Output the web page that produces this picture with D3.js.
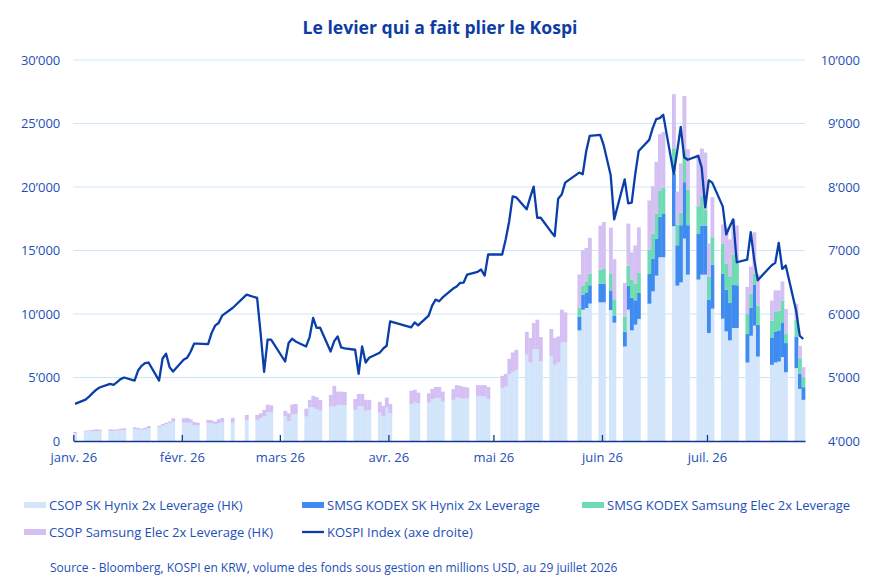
<!DOCTYPE html>
<html>
<head>
<meta charset="utf-8">
<script src="https://cdn.jsdelivr.net/npm/d3@7"></script>
<style>
  body { margin: 0; background: #fff; }
  svg { font-family: "Open Sans", sans-serif; }
</style>
</head>
<body>
<div id="chart"></div>
<script>
// Trading days shown on the chart (2026)
const dates = [
  "01-02","01-05","01-06","01-07","01-08","01-09","01-12","01-13","01-14","01-15","01-16",
  "01-19","01-20","01-21","01-22","01-23","01-26","01-27","01-28","01-29","01-30",
  "02-02","02-03","02-04","02-05","02-06","02-09","02-10","02-11","02-12","02-13",
  "02-16","02-20","02-23","02-24","02-25","02-26","02-27",
  "03-03","03-04","03-05","03-06","03-09","03-10","03-11","03-12","03-13",
  "03-16","03-17","03-18","03-19","03-20","03-23","03-24","03-25","03-26","03-27","03-30","03-31",
  "04-01","04-02","04-08","04-09","04-10","04-13","04-14","04-15","04-16","04-17",
  "04-20","04-21","04-22","04-23","04-24","04-27","04-28","04-29","04-30",
  "05-04","05-05","05-06","05-07","05-08","05-11","05-12","05-13","05-14","05-15",
  "05-18","05-19","05-20","05-21","05-22","05-26","05-27","05-28","05-29",
  "06-01","06-02","06-04","06-05","06-08","06-09","06-10","06-11","06-12",
  "06-15","06-16","06-17","06-18","06-19","06-22","06-23","06-24","06-25","06-26","06-29","06-30",
  "07-01","07-02","07-03","07-06","07-07","07-08","07-09","07-10",
  "07-13","07-14","07-15","07-16","07-20","07-21","07-22","07-23","07-24","07-27","07-28","07-29"
];

// CSOP SK Hynix 2x Leverage (HK), millions USD
const csopHynix = [
  630,740,750,760,780,770,800,790,810,830,850,
  950,910,880,930,1000,1080,1210,1320,1440,1520,
  1440,1440,1440,1240,1240,1390,1390,1300,1420,1500,
  1440,1660,1660,1790,1970,2290,2230,
  1970,1550,2080,2130,1920,2660,2660,2500,2390,
  2710,2710,2840,2840,2840,2450,2760,2760,2390,2450,2230,1970,
  2630,2190,2920,3020,2970,3020,3290,3390,3390,3100,
  3240,3450,3370,3340,3340,3500,3500,3500,3310,
  4180,4290,5260,5470,5600,6790,6180,7240,7240,6260,
  6710,6000,6180,7760,7760,8710,10340,10470,10820,
  10920,10920,10310,9320,7440,10340,8710,9160,9610,
  10810,11780,13020,14470,14470,16910,12230,12490,15940,13100,12710,13100,
  13100,8500,10420,9630,8630,7920,8900,8900,
  6180,8290,9080,6650,6000,6180,6260,6610,5420,5740,4100,3240
];

// SMSG KODEX SK Hynix 2x Leverage
const kodexHynix = [
  0,0,0,0,0,0,0,0,0,0,0, 0,0,0,0,0,0,0,0,0,0,
  0,0,0,0,0,0,0,0,0,0, 0,0,0,0,0,0,0,
  0,0,0,0,0,0,0,0,0, 0,0,0,0,0,0,0,0,0,0,0,0,
  0,0,0,0,0,0,0,0,0,0, 0,0,0,0,0,0,0,0,0,
  0,0,0,0,0,0,0,0,0,0, 0,0,0,0,0,1060,1180,1230,1440,
  1470,1470,1550,520,1160,1890,2560,1920,2050,
  2340,2580,2920,3190,3450,4140,3180,4500,4440,3890,3630,3870,
  3870,2630,3470,3550,3290,2950,3420,3360,
  2240,2210,3240,2500,2110,2450,2450,2730,2290,2490,1210,1000
];

// SMSG KODEX Samsung Elec 2x Leverage
const kodexSamsung = [
  0,0,0,0,0,0,0,0,0,0,0, 0,0,0,0,0,0,0,0,0,0,
  0,0,0,0,0,0,0,0,0,0, 0,0,0,0,0,0,0,
  0,0,0,0,0,0,0,0,0, 0,0,0,0,0,0,0,0,0,0,0,0,
  0,0,0,0,0,0,0,0,0,0, 0,0,0,0,0,0,0,0,0,
  0,0,0,0,0,0,0,0,0,0, 0,0,0,0,0,710,730,820,920,
  1100,1150,1340,1320,1210,1580,1440,1320,1580,
  1920,1970,1970,2080,2030,2000,1630,980,2450,2820,2150,2370,
  1260,1790,2150,2370,2050,2100,2370,1890,
  1580,1100,870,1500,1370,1530,1550,1710,730,1320,1210,790
];

// CSOP Samsung Elec 2x Leverage (HK)
const csopSamsung = [
  80,70,90,110,140,120,120,100,110,140,150,
  130,120,90,120,180,100,130,120,110,270,
  350,380,270,260,200,270,240,220,290,320,
  380,390,390,390,480,570,570,
  400,630,790,790,630,580,890,950,850,
  920,1630,1050,1050,1030,860,950,950,850,790,850,790,
  790,730,1030,1010,840,740,810,870,870,790,
  840,950,970,920,870,900,900,900,950,
  950,1000,1210,1500,1580,1810,1930,2050,2310,1920,
  2110,2110,2050,2580,2370,2630,2760,2680,2820,
  3470,3700,3600,3160,2640,3310,2150,3000,3580,
  3870,3730,4080,4420,4390,4260,2600,3890,4340,3160,4080,3690,
  4480,2630,3160,1500,2840,2900,2760,2820,
  2130,2130,3240,2450,1580,1700,1600,1520,1950,1260,970,790
];

// KOSPI Index (right axis)
const kospi = [
  4584,4652,4700,4753,4805,4842,4900,4884,4926,4974,5000,
  4952,5110,5184,5227,5236,4952,5300,5374,5163,5094,
  5279,5310,5405,5532,5532,5527,5700,5816,5858,5974,
  6095,6305,6253,5700,5090,5595,5595,
  5252,5543,5610,5568,5489,5637,5937,5780,5784,
  5410,5568,5647,5473,5460,5437,5058,5489,5236,5311,5390,5453,
  5500,5884,5789,5868,5821,5974,6132,6226,6200,6260,
  6400,6432,6490,6495,6621,6664,6700,6605,6937,
  6937,7174,7458,7853,7837,7648,7837,8006,7516,7516,
  7293,7226,7816,7880,8069,8227,8200,8563,8805,
  8821,8658,8184,7490,8121,7742,7753,8200,8568,
  8742,8927,9069,9085,9137,8211,8563,8947,8468,8429,8489,8306,
  7679,8105,8069,7695,7253,7379,7490,6815,
  6858,7289,6853,6531,6769,6805,7121,6711,6763,6042,5658,5606
];

const leftTicks = [0, 5000, 10000, 15000, 20000, 25000, 30000];
const rightTicks = [4000, 5000, 6000, 7000, 8000, 9000, 10000];
const monthLabels = ["janv. 26", "févr. 26", "mars 26", "avr. 26", "mai 26", "juin 26", "juil. 26"];

const seriesKeys = ["csopHynix", "kodexHynix", "kodexSamsung", "csopSamsung"];
const seriesNames = {
  csopHynix: "CSOP SK Hynix 2x Leverage (HK)",
  kodexHynix: "SMSG KODEX SK Hynix 2x Leverage",
  kodexSamsung: "SMSG KODEX Samsung Elec 2x Leverage",
  csopSamsung: "CSOP Samsung Elec 2x Leverage (HK)"
};
const colors = {
  csopHynix: "#d3e5fb",
  kodexHynix: "#3f8bf0",
  kodexSamsung: "#6edbb3",
  csopSamsung: "#d4c0f2"
};
const lineColor = "#0a3eab";
const textColor = "#1e4fb8";

const width = 877, height = 580;
const x0 = 73.3, x1 = 805, yTop = 60, yBase = 441;

const parse = d3.timeParse("%Y-%m-%d");
const rows = dates.map((d, i) => ({
  date: parse("2026-" + d),
  csopHynix: csopHynix[i],
  kodexHynix: kodexHynix[i],
  kodexSamsung: kodexSamsung[i],
  csopSamsung: csopSamsung[i],
  kospi: kospi[i]
}));

const x = d3.scaleTime()
  .domain([new Date(2026, 0, 1), new Date(2026, 6, 29)])
  .range([x0, x1]);
const yL = d3.scaleLinear().domain([0, 30000]).range([yBase, yTop]);
const yR = d3.scaleLinear().domain([4000, 10000]).range([yBase, yTop]);

const fmt = d3.formatLocale({ decimal: ".", thousands: "\u2019", grouping: [3], currency: ["", ""] }).format(",");

const svg = d3.select("#chart").append("svg")
  .attr("width", width)
  .attr("height", height);

// Title
svg.append("text")
  .attr("x", 440).attr("y", 34)
  .attr("text-anchor", "middle")
  .style("font-size", "17.6px").style("font-weight", "700")
  .style("fill", "#0d3da3")
  .text("Le levier qui a fait plier le Kospi");

// Gridlines
svg.append("g").selectAll("line")
  .data(leftTicks.slice(1))
  .join("line")
  .attr("x1", x0).attr("x2", x1)
  .attr("y1", d => yL(d)).attr("y2", d => yL(d))
  .attr("stroke", "#cbe7f6").attr("stroke-width", 1);

// Stacked bars
const stack = d3.stack().keys(seriesKeys)(rows);
const day = d => d3.timeDay.offset(d, -1);

svg.append("g").selectAll("g")
  .data(stack)
  .join("g")
  .attr("fill", s => colors[s.key])
  .selectAll("rect")
  .data(s => s.filter(p => p[1] > p[0]))
  .join("rect")
  .attr("x", p => x(day(p.data.date)))
  .attr("width", p => x(p.data.date) - x(day(p.data.date)) + 0.35)
  .attr("y", p => yL(p[1]))
  .attr("height", p => yL(p[0]) - yL(p[1]));

// KOSPI line
const halfDay = (x(new Date(2026, 0, 2)) - x(new Date(2026, 0, 1))) / 2;
const line = d3.line()
  .x(d => x(d.date) - halfDay)
  .y(d => yR(d.kospi));

svg.append("path")
  .datum(rows)
  .attr("d", line)
  .attr("fill", "none")
  .attr("stroke", lineColor)
  .attr("stroke-width", 2.3)
  .attr("stroke-linejoin", "round");

// Axes
const axisLeft = svg.append("g")
  .attr("transform", `translate(${x0},0)`)
  .call(d3.axisLeft(yL).tickValues(leftTicks).tickFormat(fmt).tickSize(0).tickPadding(13));
axisLeft.select(".domain").remove();

const axisRight = svg.append("g")
  .attr("transform", `translate(${x1},0)`)
  .call(d3.axisRight(yR).tickValues(rightTicks).tickFormat(fmt).tickSize(0));
axisRight.select(".domain").remove();
axisRight.selectAll("text").attr("x", 55).attr("text-anchor", "end");

const months = d3.timeMonth.range(new Date(2026, 0, 1), new Date(2026, 6, 2));
const axisBottom = svg.append("g")
  .attr("transform", `translate(0,${yBase})`)
  .call(d3.axisBottom(x).tickValues(months)
    .tickFormat((d, i) => monthLabels[i])
    .tickSizeInner(-6).tickSizeOuter(0).tickPadding(12));
axisBottom.select(".domain").attr("stroke", "#14378f").attr("stroke-width", 1.5);
axisBottom.selectAll(".tick line").attr("stroke", "#14378f").attr("stroke-width", 1.3);

svg.selectAll(".tick text")
  .style("font-size", "13px")
  .style("font-family", "Open Sans, sans-serif")
  .style("fill", textColor);

// Legend
const legendItems = [
  { key: "csopHynix", col: 0, row: 0 },
  { key: "kodexHynix", col: 1, row: 0 },
  { key: "kodexSamsung", col: 2, row: 0 },
  { key: "csopSamsung", col: 0, row: 1 },
  { key: "kospi", col: 1, row: 1 }
];
const colX = [24, 302, 582];
const rowY = [505, 532];

const legend = svg.append("g").selectAll("g")
  .data(legendItems)
  .join("g")
  .attr("transform", d => `translate(${colX[d.col]},${rowY[d.row]})`);

legend.filter(d => d.key !== "kospi")
  .append("rect")
  .attr("x", 0).attr("y", -3).attr("width", 22).attr("height", 6)
  .attr("fill", d => colors[d.key]);

legend.filter(d => d.key === "kospi")
  .append("line")
  .attr("x1", 0).attr("x2", 22).attr("y1", 0).attr("y2", 0)
  .attr("stroke", lineColor).attr("stroke-width", 2.3);

legend.append("text")
  .attr("x", 25).attr("y", 0).attr("dy", "0.35em")
  .style("font-size", "13px")
  .style("fill", textColor)
  .text(d => d.key === "kospi" ? "KOSPI Index (axe droite)" : seriesNames[d.key]);

// Source
svg.append("text")
  .attr("x", 50).attr("y", 568).attr("dy", "0.35em")
  .style("font-size", "12px")
  .style("fill", textColor)
  .text("Source - Bloomberg, KOSPI en KRW, volume des fonds sous gestion en millions USD, au 29 juillet 2026");
</script>
</body>
</html>
